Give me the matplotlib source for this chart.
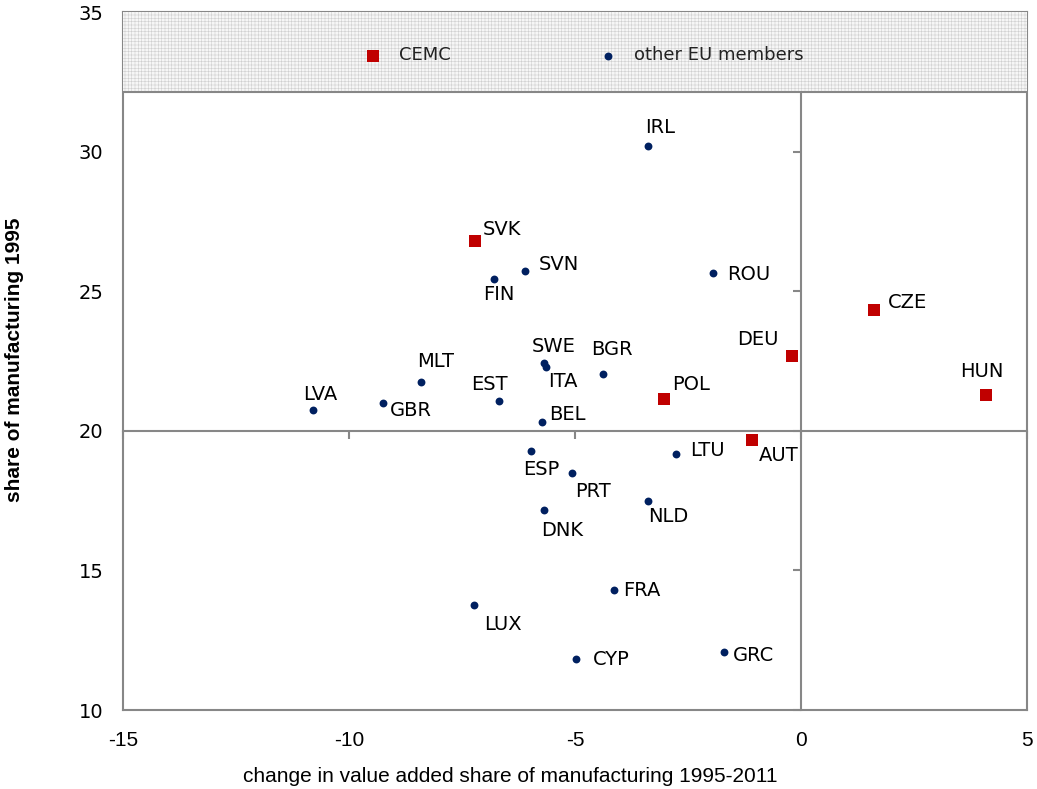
import matplotlib
matplotlib.use("Agg")
import matplotlib.pyplot as plt
from matplotlib.patches import Rectangle

# countries, change in VA share 1995-2011 (x), share of manufacturing 1995 (y)
countries = ["IRL", "SVK", "SVN", "FIN", "ROU", "CZE", "DEU", "HUN", "AUT",
             "MLT", "LVA", "GBR", "EST", "SWE", "ITA", "BGR", "POL", "BEL",
             "ESP", "PRT", "DNK", "LTU", "NLD", "FRA", "LUX", "CYP", "GRC"]
change = [-3.38, -7.21, -6.11, -6.79, -1.95, 1.61, -0.20, 4.09, -1.08,
          -8.40, -10.79, -9.25, -6.68, -5.68, -5.65, -4.39, -3.02, -5.74,
          -5.97, -5.06, -5.68, -2.77, -3.39, -4.14, -7.24, -4.98, -1.70]
share95 = [30.21, 26.81, 25.73, 25.45, 25.65, 24.31, 22.68, 21.30, 19.67,
           21.73, 20.73, 21.01, 21.05, 22.43, 22.28, 22.02, 21.14, 20.31,
           19.26, 18.48, 17.16, 19.18, 17.48, 14.30, 13.76, 11.83, 12.07]
cemc = ["SVK", "CZE", "DEU", "HUN", "AUT", "POL"]

x_ticks = [-15, -10, -5, 0, 5]
y_ticks = [10, 15, 20, 25, 30, 35]

# label placement (pixels: dx, dy up, alignment)
label_pos = {
    "IRL": (-3, 18, "left"), "SVK": (8, 11, "left"), "SVN": (14, 6, "left"),
    "FIN": (-11, -16, "left"), "ROU": (14, -1, "left"), "CZE": (14, 8, "left"),
    "DEU": (-13, 16, "right"), "HUN": (-4, 23, "center"), "AUT": (7, -15, "left"),
    "MLT": (-4, 21, "left"), "LVA": (-10, 16, "left"), "GBR": (7, -8, "left"),
    "EST": (-28, 17, "left"), "SWE": (-13, 16, "left"), "ITA": (3, -14, "left"),
    "BGR": (-11, 25, "left"), "POL": (8, 14, "left"), "BEL": (8, 8, "left"),
    "ESP": (-8, -18, "left"), "PRT": (3, -18, "left"), "DNK": (-3, -20, "left"),
    "LTU": (14, 3, "left"), "NLD": (0, -15, "left"), "FRA": (9, -1, "left"),
    "LUX": (10, -19, "left"), "CYP": (17, -1, "left"), "GRC": (9, -3, "left"),
}

RED = "#c00000"
NAVY = "#002060"
GREY = "#878787"
NARROW = ["Liberation Sans", "DejaVu Sans"]

plt.rcParams["hatch.linewidth"] = 0.4
plt.rcParams["axes.unicode_minus"] = False

fig = plt.figure(figsize=(10.37, 7.89), dpi=100)
ax = fig.add_axes([123 / 1037, 1 - 710 / 789, 904 / 1037, 698 / 789])
ax.set_xlim(-15, 5)
ax.set_ylim(10, 35)

for sp in ax.spines.values():
    sp.set_color(GREY)
    sp.set_linewidth(1.5)

ax.set_xticks(x_ticks)
ax.set_yticks(y_ticks)
ax.tick_params(length=0)
ax.tick_params(axis="x", pad=15, labelsize=15)
ax.tick_params(axis="y", pad=14, labelsize=14)
for t in ax.get_xticklabels():
    t.set_family(NARROW)

# crossing axes at x=0 and y=20
secx = ax.secondary_xaxis(0.4)
secx.set_xticks(x_ticks)
secx.tick_params(direction="out", length=6, width=1.5, color=GREY, labelbottom=False, labeltop=False)
for sp in secx.spines.values():
    sp.set_color(GREY)
    sp.set_linewidth(1.5)

secy = ax.secondary_yaxis(0.75)
secy.set_alignment("left")
secy.set_yticks(y_ticks)
secy.tick_params(direction="out", length=6, width=1.5, color=GREY, labelleft=False, labelright=False)
for sp in secy.spines.values():
    sp.set_color(GREY)
    sp.set_linewidth(1.5)

# points
is_cemc = [c in cemc for c in countries]
cx = [x for x, f in zip(change, is_cemc) if f]
cy = [y for y, f in zip(share95, is_cemc) if f]
ox = [x for x, f in zip(change, is_cemc) if not f]
oy = [y for y, f in zip(share95, is_cemc) if not f]
h1 = ax.scatter(cx, cy, marker="s", s=72, color=RED, linewidths=0, zorder=4)
h2 = ax.scatter(ox, oy, marker="o", s=32, color=NAVY, linewidths=0, zorder=4)

for name, x, y in zip(countries, change, share95):
    dx, dy, ha = label_pos[name]
    ax.annotate(name, (x, y), xytext=(dx, dy), textcoords="offset pixels",
                ha=ha, va="center", fontsize=14, color="black", zorder=5)

# legend band at the top
band = Rectangle((0, 0.885), 1, 0.115, transform=ax.transAxes, facecolor="#f6f6f6",
                 edgecolor="#cfcfcf", hatch="+++++", linewidth=0, zorder=3)
ax.add_patch(band)
ax.plot([0, 1], [0.885, 0.885], transform=ax.transAxes, color=GREY, lw=1.5, zorder=3.5)

ax.legend([h1, h2], ["CEMC", "other EU members"], loc="center", bbox_to_anchor=(0.505, 0.938),
          ncol=2, frameon=False, fontsize=13, handlelength=2, handletextpad=0.45,
          columnspacing=7.7, scatterpoints=1, labelcolor="#222222")

fig.text(510 / 1037, 1 - 776 / 789, "change in value added share of manufacturing 1995-2011",
         ha="center", va="center", fontsize=15, family=NARROW)
fig.text(15 / 1037, 1 - 360 / 789, "share of manufacturing 1995", rotation=90,
         ha="center", va="center", fontsize=15, fontweight="bold", family=NARROW)

fig.savefig("out.png", dpi=100)
